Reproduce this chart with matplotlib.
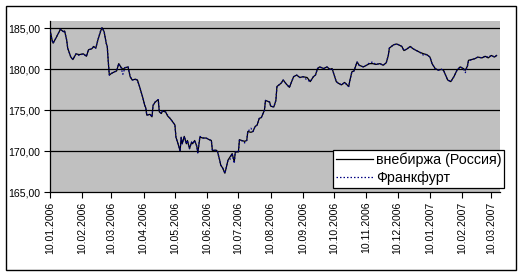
import matplotlib
matplotlib.use("Agg")
import matplotlib.pyplot as plt
import matplotlib.dates as mdates
from matplotlib.patches import Rectangle
import pandas as pd

plt.rcParams['font.family'] = ['Liberation Sans', 'DejaVu Sans']

dates = [
"2006-01-10","2006-01-12","2006-01-13","2006-01-16","2006-01-20","2006-01-23","2006-01-24","2006-01-26","2006-01-27","2006-01-30",
"2006-02-01","2006-02-04","2006-02-07","2006-02-11","2006-02-14","2006-02-16","2006-02-19","2006-02-21","2006-02-23","2006-02-25","2006-02-28",
"2006-03-01","2006-03-03","2006-03-05","2006-03-06","2006-03-07","2006-03-08","2006-03-10","2006-03-13","2006-03-15","2006-03-17","2006-03-19","2006-03-21","2006-03-23","2006-03-26","2006-03-28","2006-03-30",
"2006-04-02","2006-04-04","2006-04-06","2006-04-09","2006-04-11","2006-04-12","2006-04-13","2006-04-16","2006-04-18","2006-04-19","2006-04-21","2006-04-24","2006-04-25","2006-04-27","2006-04-28",
"2006-05-01","2006-05-03","2006-05-06","2006-05-10","2006-05-11","2006-05-13","2006-05-15","2006-05-16","2006-05-17","2006-05-19","2006-05-21","2006-05-22","2006-05-24","2006-05-26","2006-05-27","2006-05-29","2006-05-31",
"2006-06-01","2006-06-03","2006-06-06","2006-06-09","2006-06-12","2006-06-14","2006-06-15","2006-06-19","2006-06-20","2006-06-22","2006-06-23","2006-06-25","2006-06-27","2006-06-28","2006-06-30",
"2006-07-02","2006-07-04","2006-07-06","2006-07-07","2006-07-10","2006-07-11","2006-07-13","2006-07-16","2006-07-18","2006-07-19","2006-07-22","2006-07-24","2006-07-26","2006-07-28","2006-07-30",
"2006-08-01","2006-08-04","2006-08-05","2006-08-09","2006-08-10","2006-08-13","2006-08-15","2006-08-16","2006-08-20","2006-08-22","2006-08-25","2006-08-28",
"2006-09-01","2006-09-04","2006-09-07","2006-09-10","2006-09-14","2006-09-17","2006-09-20","2006-09-22","2006-09-24","2006-09-26","2006-09-30",
"2006-10-03","2006-10-06","2006-10-08","2006-10-10","2006-10-12","2006-10-14","2006-10-17","2006-10-20","2006-10-24","2006-10-25","2006-10-27","2006-10-29",
"2006-11-01","2006-11-03","2006-11-07","2006-11-10","2006-11-13","2006-11-16","2006-11-19","2006-11-23","2006-11-26","2006-11-29",
"2006-12-01","2006-12-02","2006-12-06","2006-12-09","2006-12-11","2006-12-14","2006-12-16","2006-12-19","2006-12-22","2006-12-25","2006-12-28","2006-12-31",
"2007-01-04","2007-01-07","2007-01-10","2007-01-12","2007-01-15","2007-01-18","2007-01-21","2007-01-23","2007-01-25","2007-01-27","2007-01-30",
"2007-02-02","2007-02-05","2007-02-08","2007-02-11","2007-02-13","2007-02-15","2007-02-16","2007-02-19","2007-02-22","2007-02-25",
"2007-03-01","2007-03-04","2007-03-07","2007-03-10","2007-03-13","2007-03-15"]

russia = [
184.8,183.6,183.2,183.9,184.9,184.6,184.7,183.6,182.6,181.5,
181.2,181.9,181.8,181.9,181.6,182.4,182.5,182.8,182.6,183.6,184.8,
185.1,184.6,183.2,182.8,180.9,179.3,179.5,179.7,179.8,180.7,180.3,180.0,180.2,180.3,179.1,178.7,
178.8,178.7,177.9,176.6,175.6,175.3,174.4,174.5,174.2,175.6,176.0,176.3,174.8,174.6,174.9,
174.8,174.3,173.9,173.2,171.7,170.9,170.0,171.7,170.9,171.8,170.9,171.3,170.3,171.1,170.9,171.3,170.6,
169.8,171.7,171.6,171.6,171.4,171.3,170.1,170.1,169.9,168.9,168.3,167.9,167.3,167.8,168.9,
169.3,169.7,168.7,169.9,169.9,171.4,171.3,171.2,171.3,172.4,172.3,172.4,173.0,173.2,174.0,
174.1,175.0,176.2,176.0,175.5,175.4,176.2,177.9,178.3,178.7,178.2,177.8,
179.1,179.3,179.0,179.1,179.0,178.5,179.1,179.3,180.1,180.3,180.1,
180.3,180.0,180.1,179.3,178.5,178.3,178.1,178.4,177.9,178.6,179.7,179.8,
180.9,180.5,180.3,180.5,180.7,180.7,180.6,180.7,180.5,180.8,
181.7,182.6,183.0,183.1,183.0,182.8,182.3,182.5,182.8,182.5,182.3,182.1,
181.9,181.8,181.5,180.7,180.1,179.9,180.0,179.9,179.3,178.7,178.5,
179.1,179.9,180.3,180.1,179.9,180.4,181.1,181.2,181.3,181.5,
181.4,181.6,181.4,181.7,181.5,181.7]

frankfurt = [
184.8,183.5,183.2,183.9,184.9,184.6,184.7,183.6,182.6,181.5,
181.2,181.9,181.7,181.9,181.6,182.4,182.5,182.8,182.6,183.6,184.9,
185.1,184.6,183.2,182.8,180.9,179.3,179.5,179.7,179.8,180.7,180.3,179.4,180.2,180.3,179.1,178.7,
178.8,178.6,177.9,176.6,175.6,175.3,174.4,174.5,174.2,175.6,176.0,176.3,174.8,174.6,174.9,
174.8,174.4,173.9,173.2,171.7,170.9,170.0,171.7,170.9,171.8,170.9,171.3,170.3,171.1,170.9,171.3,170.6,
169.8,171.8,171.6,171.6,171.4,171.3,170.1,170.1,169.9,168.9,168.3,167.9,167.3,167.8,168.9,
169.0,169.7,168.5,169.9,169.9,171.4,171.3,171.0,171.3,172.4,172.8,172.4,173.0,173.2,174.0,
174.1,175.0,176.2,176.0,175.5,175.4,176.2,177.9,178.3,178.7,178.2,177.8,
179.1,179.3,179.0,179.1,178.7,178.5,179.1,179.3,180.1,180.3,180.1,
180.3,180.0,180.1,179.3,178.5,178.3,178.1,178.4,177.9,178.6,179.7,179.8,
180.9,180.5,180.3,180.5,180.8,180.9,180.6,180.7,180.5,180.8,
181.7,182.6,183.0,183.1,183.0,182.8,182.3,182.5,182.8,182.5,182.3,182.1,
181.7,181.8,181.5,180.7,180.1,179.9,180.0,179.9,179.3,178.7,178.5,
179.1,179.9,180.3,180.1,179.6,180.4,181.0,181.2,181.3,181.5,
181.4,181.6,181.5,181.7,181.5,181.7]

tick_dates = ["2006-01-10","2006-02-10","2006-03-10","2006-04-10","2006-05-10","2006-06-10",
              "2006-07-10","2006-08-10","2006-09-10","2006-10-10","2006-11-10","2006-12-10",
              "2007-01-10","2007-02-10","2007-03-10"]
y_ticks = [165, 170, 175, 180, 185]
series_names = ["внебиржа (Россия)", "Франкфурт"]

x = pd.to_datetime(dates)
xt = pd.to_datetime(tick_dates)

W, H = 524, 276
fig = plt.figure(figsize=(W/100, H/100), dpi=100)
fig.patch.set_facecolor('white')

L, R, T, B = 50, 499.7, 20.7, 192
ax = fig.add_axes([L/W, 1-B/H, (R-L)/W, (B-T)/H])
ax.set_facecolor('#C0C0C0')

for yv in y_ticks[1:]:
    ax.axhline(yv, color='black', lw=0.9, zorder=1)

ax.plot(x, russia, color='black', lw=0.9, zorder=3, label=series_names[0])
ax.plot(x, frankfurt, color='#000080', lw=0.9, ls=(0, (1.2, 1.6)), zorder=4, label=series_names[1])

ax.set_ylim(165, 185.95)
ax.set_xlim(pd.Timestamp("2006-01-10"), pd.Timestamp("2007-03-18"))
ax.set_yticks(y_ticks)
ax.set_yticklabels([f"{v:.2f}".replace('.', ',') for v in y_ticks])
ax.set_xticks(xt)
ax.set_xticklabels([d.strftime("%d.%m.%Y") for d in xt], rotation=90)
ax.tick_params(axis='both', direction='out', length=4, width=0.8, color='black',
               labelsize=7.6, labelcolor='black')
ax.tick_params(axis='y', pad=3)
ax.tick_params(axis='x', pad=3)

for s in ['top', 'right']:
    ax.spines[s].set_visible(False)
for s in ['left', 'bottom']:
    ax.spines[s].set_color('black')
    ax.spines[s].set_linewidth(0.9)

leg = ax.legend(loc='upper left', bbox_to_anchor=(333/W, 1-150/H), bbox_transform=fig.transFigure,
                borderaxespad=0, fontsize=10.3, frameon=True, fancybox=False, shadow=False,
                handlelength=2.6, handletextpad=0.2, borderpad=0.2, labelspacing=0.25)
leg.get_frame().set_edgecolor('black')
leg.get_frame().set_linewidth(0.9)
leg.get_frame().set_facecolor('white')
leg.get_frame().set_alpha(1)

fig.patches.append(Rectangle((5.7/W, 1-270/H), (515.7-5.7)/W, (270-5.7)/H, transform=fig.transFigure,
                             fill=False, edgecolor='black', lw=1.0))

fig.savefig("out.png", dpi=100)
